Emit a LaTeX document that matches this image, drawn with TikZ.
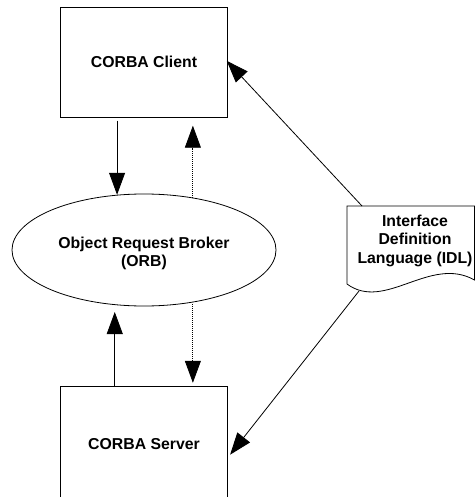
\documentclass[tikz,border=0pt]{standalone}
\usepackage{fontspec}
\setmainfont{Liberation Sans}
\usetikzlibrary{arrows.meta,shapes.geometric,calc}

\begin{document}
\begin{tikzpicture}[x=1bp,y=-1bp,
  line width=0.8bp,
  txt/.style={font=\fontsize{15.8bp}{18.5bp}\selectfont\bfseries, align=center},
  boxnode/.style={draw, minimum width=167.4bp, inner sep=0pt, txt},
  orbnode/.style={draw, ellipse, minimum width=264bp, minimum height=112bp, inner sep=0pt},
  arr/.style={-{Triangle[width=16bp,length=22bp]}},
  dots/.style={arr, dash pattern=on 1bp off 1bp}
]
\useasboundingbox (0,0) rectangle (475,497);

% client, broker and server (server box runs past the lower edge)
\node[boxnode, minimum height=110bp] (client) at (144,62.3) {CORBA Client};
\node[boxnode, minimum height=114bp] (server) at (144,443.7) {CORBA Server};
\node[orbnode] (orb) at (144,250) {};
\node[txt] (orbtext) at (144,253.3) {Object Request Broker\\(ORB)};

% IDL document with wavy bottom edge
\draw (347,206) -- (474.5,206) -- (474.5,280)
  .. controls (430,255) and (385,312) .. (347,284) -- cycle;
\node[txt] (idl) at (415,240.8) {Interface\\Definition\\Language (IDL)};
\coordinate (idltop) at (362,206);
\coordinate (idlbot) at (359,291);

% requests and replies through the broker
\draw[arr, shorten <=3bp] (orb.116 |- client.south) -- (orb.116);
\draw[dots, shorten >=8bp] (orb.47) -- (orb.47 |- client.south);
\draw[arr, shorten >=7bp] (orb.242 |- server.north) -- (orb.242);
\draw[dots, shorten <=2bp, shorten >=3.5bp] (orb.-47) -- (orb.-47 |- server.north);

% IDL compiled into client and server
\draw[arr, shorten >=-2bp] (idltop) -- (client.east);
\draw[arr] (idlbot) -- ([xshift=2bp,yshift=-11bp]server.east);
\end{tikzpicture}
\end{document}
